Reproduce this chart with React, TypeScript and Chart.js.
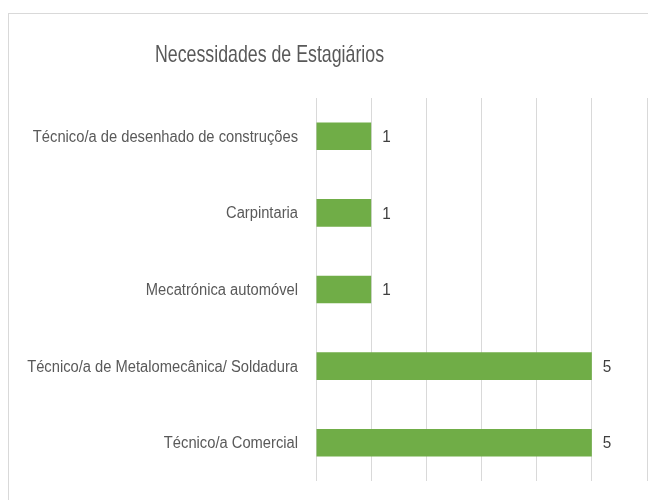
import React, { useEffect, useRef } from "react";
import { Chart, registerables } from "chart.js";

Chart.register(...registerables);

const TITLE = "Necessidades de Estagiários";
const categories = [
  "Técnico/a de desenhado de construções",
  "Carpintaria",
  "Mecatrónica automóvel",
  "Técnico/a de Metalomecânica/ Soldadura",
  "Técnico/a Comercial",
];
const values = [1, 1, 1, 5, 5];
const xMin = 0;
const xMax = 6;
const xStep = 1;

const FONT = "'Liberation Sans', Arial, sans-serif";

const titlePlugin = {
  id: "customTitle",
  afterDraw(chart: any) {
    const ctx = chart.ctx;
    ctx.save();
    ctx.font = `24px ${FONT}`;
    ctx.fillStyle = "#595959";
    ctx.textAlign = "center";
    ctx.textBaseline = "alphabetic";
    ctx.translate(260.5, 48);
    ctx.scale(0.74, 1);
    ctx.fillText(TITLE, 0, 0);
    ctx.restore();
  },
};

const categoryLabelPlugin = {
  id: "categoryLabels",
  afterDraw(chart: any) {
    const ctx = chart.ctx;
    const yScale = chart.scales.y;
    const right = chart.chartArea.left - 18;
    ctx.save();
    ctx.font = `16px ${FONT}`;
    ctx.fillStyle = "#595959";
    ctx.textAlign = "right";
    ctx.textBaseline = "middle";
    categories.forEach((label, i) => {
      const y = yScale.getPixelForValue(i);
      ctx.save();
      ctx.translate(right, y);
      ctx.scale(0.92, 1);
      ctx.fillText(label, 0, 1);
      ctx.restore();
    });
    ctx.restore();
  },
};

const dataLabelPlugin = {
  id: "dataLabels",
  afterDatasetsDraw(chart: any) {
    const ctx = chart.ctx;
    const meta = chart.getDatasetMeta(0);
    ctx.save();
    ctx.font = `17px ${FONT}`;
    ctx.fillStyle = "#404040";
    ctx.textBaseline = "middle";
    meta.data.forEach((bar: any, i: number) => {
      ctx.save();
      ctx.translate(bar.x + 11, bar.y + 1);
      ctx.scale(0.9, 1);
      ctx.textAlign = "left";
      ctx.fillText(String(values[i]), 0, 0);
      ctx.restore();
    });
    ctx.restore();
  },
};

export default function App() {
  const ref = useRef<HTMLCanvasElement | null>(null);
  useEffect(() => {
    if (!ref.current) return;
    const chart = new Chart(ref.current, {
      type: "bar",
      data: {
        labels: categories,
        datasets: [
          {
            data: values,
            backgroundColor: "#70AD47",
            borderWidth: 0,
            categoryPercentage: 1,
            barPercentage: 0.36,
          },
        ],
      },
      options: {
        indexAxis: "y",
        animation: false,
        responsive: false,
        devicePixelRatio: 1,
        layout: { padding: { top: 84, bottom: 33, left: 0, right: 62 } },
        plugins: {
          legend: { display: false },
          title: { display: false },
          tooltip: { enabled: false },
        },
        scales: {
          x: {
            min: xMin,
            max: xMax,
            ticks: { stepSize: xStep, display: false },
            grid: { color: "#d9d9d9", lineWidth: 1, drawTicks: false },
            border: { display: false },
          },
          y: {
            grid: { display: false, drawTicks: false },
            border: { display: false },
            ticks: { display: false },
            afterFit(scale: any) {
              scale.width = 307;
            },
          },
        },
      },
      plugins: [titlePlugin, categoryLabelPlugin, dataLabelPlugin],
    });
    return () => chart.destroy();
  }, []);
  return (
    <div
      style={{
        marginTop: 5,
        width: 700,
        height: 500,
        border: "1px solid #d9d9d9",
        background: "#fff",
        boxSizing: "content-box",
      }}
    >
      <canvas ref={ref} width={700} height={500} style={{ display: "block" }} />
    </div>
  );
}
